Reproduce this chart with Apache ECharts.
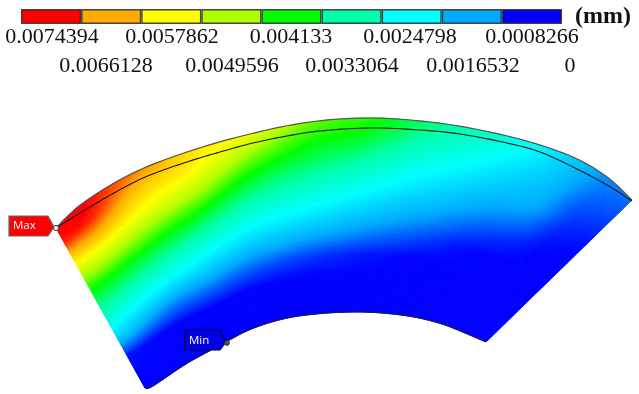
<!DOCTYPE html>
<html><head><meta charset="utf-8">
<style>html,body{margin:0;padding:0;background:#fff}#c{width:639px;height:394px}</style>
<script src="https://cdn.jsdelivr.net/npm/echarts@6/dist/echarts.min.js"></script>
</head><body><div id="c"></div>
<script>
// ---- values ----
const tickLabels = ['0.0074394','0.0066128','0.0057862','0.0049596','0.004133','0.0033064','0.0024798','0.0016532','0.0008266','0'];
const tickValues = [0.0074394,0.0066128,0.0057862,0.0049596,0.004133,0.0033064,0.0024798,0.0016532,0.0008266,0];
const bandColors = ['#ff0000','#ffaa00','#ffff00','#b0ff00','#00ff00','#00ffaa','#00ffff','#00aaff','#0000ff'];
const unitLabel = '(mm)';
// sector boundary, one station per column of the field
const outerX = [56,83,133,190,250,310,370,430,480,530,575,607,632];
const outerY = [228,203,173,151,134,122,118,122,130,142,158,177,200];
const innerX = [145,153,186,217,249,283,316,351,382,414,442,465,486];
const innerY = [388,386,364,347,330,319,314,312,313,317,324,333,342];
// thin black curve under the top edge
const seamX = [56,67,100,125,150,190,220,253,287,320,370,420,460,507,540,573,607,632];
const seamY = [228,221,201,187,175,161,152,143,136,131,128,130,134,143,152,167,185,201];
// depth of each row, from top edge (0) to bottom edge (1)
const rowDepth = [0,.05,.1,.2,.3,.4,.5,.6,.7,.8,.9,1];
// displacement, in 1e-4 mm, one list per station
const st0  = [74.4,74.4,72.0,58.5,46.5,36.5,29.0,21.6,12.4,1.2,0,0];
const st1  = [74.4,74.4,72.5,61.5,48.5,37.2,28.5,19.9,11.4,0.6,0,0];
const st2  = [68.0,65.0,61.5,54.8,44.4,34.5,25.7,16.7,7.4,0,0,0];
const st3  = [59.5,58.0,56.4,48.2,38.6,29.8,21.2,14.0,6.5,0,0,0];
const st4  = [53.6,49.7,45.8,38.0,31.0,24.1,17.4,11.2,5.0,0,0,0];
const st5  = [43.2,40.8,38.4,33.0,27.4,21.7,16.0,10.2,3.9,0,0,0];
const st6  = [38.7,37.3,34.8,29.4,24.0,18.6,13.6,8.4,2.4,0,0,0];
const st7  = [31.2,29.1,27.0,22.8,18.6,14.6,10.5,5.9,1.0,0,0,0];
const st8  = [26.0,24.2,22.3,18.6,15.1,11.6,7.8,3.6,0,0,0,0];
const st9  = [20.0,18.7,17.3,14.4,11.6,8.5,4.7,0.8,0,0,0,0];
const st10 = [13.4,12.7,12.0,10.6,9.4,6.0,2.2,0,0,0,0,0];
const st11 = [8.2,7.3,6.5,4.7,3.0,1.2,0,0,0,0,0,0];
const st12 = [6.0,5.1,4.3,2.6,0.9,0,0,0,0,0,0,0];
const stations = [st0,st1,st2,st3,st4,st5,st6,st7,st8,st9,st10,st11,st12];
const maxValue = 74.394;

// ---- helpers ----
const rgb = bandColors.slice().reverse().map(h => [1,3,5].map(i => parseInt(h.substr(i,2),16)));
function colorOf(v){
  let p = Math.max(0,Math.min(1,v/maxValue))*(rgb.length-1);
  let i = Math.min(rgb.length-2,Math.floor(p)), f = p-i;
  return 'rgb('+[0,1,2].map(k=>Math.round(rgb[i][k]+(rgb[i+1][k]-rgb[i][k])*f)).join(',')+')';
}
function spline(a,i,t){
  const p0=a[Math.max(i-1,0)],p1=a[i],p2=a[Math.min(i+1,a.length-1)],p3=a[Math.min(i+2,a.length-1)];
  return .5*((2*p1)+(-p0+p2)*t+(2*p0-5*p1+4*p2-p3)*t*t+(-p0+3*p1-3*p2+p3)*t*t*t);
}
function curvePts(xs,ys,api,n){
  const out=[];
  for(let i=0;i<xs.length-1;i++) for(let k=0;k<n;k++){
    out.push(api.coord([spline(xs,i,k/n),spline(ys,i,k/n)]));
  }
  out.push(api.coord([xs[xs.length-1],ys[ys.length-1]]));
  return out;
}
const rows = rowDepth.map((_,r)=>stations.map(s=>s[r]));
const SU=14, SR=7;
function renderCell(params,api){
  const c=api.value(0), r=api.value(1), kids=[];
  const d0=rowDepth[r], d1=rowDepth[r+1];
  const pt=(u,s)=>{
    const ox=spline(outerX,c,u),oy=spline(outerY,c,u),ix=spline(innerX,c,u),iy=spline(innerY,c,u);
    return api.coord([ox+(ix-ox)*s,oy+(iy-oy)*s]);
  };
  const val=(u,w)=>{
    const a=spline(rows[r],c,u), b=spline(rows[r+1],c,u);
    return a+(b-a)*w;
  };
  for(let i=0;i<SU;i++) for(let j=0;j<SR;j++){
    const u0=i/SU,u1=(i+1)/SU,w0=j/SR,w1=(j+1)/SR;
    const s0=d0+(d1-d0)*w0,s1=d0+(d1-d0)*w1;
    const col=colorOf(val((u0+u1)/2,(w0+w1)/2));
    kids.push({type:'polygon',shape:{points:[pt(u0,s0),pt(u1,s0),pt(u1,s1),pt(u0,s1)]},
      style:{fill:col,stroke:col,lineWidth:1}});
  }
  return {type:'group',children:kids};
}
const cells=[];
for(let c=0;c<stations.length-1;c++) for(let r=0;r<rowDepth.length-1;r++) cells.push([c,r]);

function renderCurves(params,api){
  return {type:'group',children:[
    {type:'polyline',shape:{points:curvePts(outerX,outerY,api,10)},style:{fill:null,stroke:'#555',lineWidth:1.2}},
    {type:'polyline',shape:{points:curvePts(innerX,innerY,api,10)},style:{fill:null,stroke:'#222',lineWidth:1}},
    {type:'polyline',shape:{points:curvePts(seamX,seamY,api,10)},style:{fill:null,stroke:'#1a1a1a',lineWidth:1.1}}
  ]};
}
function renderTags(params,api){
  const P=(x,y)=>api.coord([x,y]);
  return {type:'group',children:[
    {type:'polygon',shape:{points:[P(9,216),P(48,216),P(54,227),P(48,236),P(9,236)]},
      style:{fill:'#ff0000',stroke:'#666',lineWidth:1.2}},
    {type:'text',style:{x:P(13,226)[0],y:P(13,226)[1],text:'Max',fill:'#fff',font:'11.5px "Open Sans"',verticalAlign:'middle'}},
    {type:'circle',shape:{cx:P(56,228)[0],cy:P(56,228)[1],r:2.6},style:{fill:'#eee',stroke:'#444',lineWidth:1}},
    {type:'polygon',shape:{points:[P(185,330),P(220,330),P(226,342),P(220,350),P(185,350)]},
      style:{fill:'#0000e6',stroke:'#050530',lineWidth:1.2}},
    {type:'text',style:{x:P(189,341)[0],y:P(189,341)[1],text:'Min',fill:'#fff',font:'11.5px "Open Sans"',verticalAlign:'middle'}},
    {type:'circle',shape:{cx:P(227,343)[0],cy:P(227,343)[1],r:2.4},style:{fill:'#555',stroke:'#333',lineWidth:1}}
  ]};
}
const labelCx=[52,106,172,232,291,352,410,473,532,570];
const labelCy=[37,66];
function renderLabels(params,api){
  const kids=tickLabels.map((t,i)=>{
    const p=api.coord([labelCx[i],labelCy[i%2]]);
    return {type:'text',style:{x:p[0],y:p[1],text:t,fill:'#111',font:'22px "Liberation Serif"',align:'center',verticalAlign:'middle'}};
  });
  const q=api.coord([603,17]);
  kids.push({type:'text',style:{x:q[0],y:q[1],text:unitLabel,fill:'#111',font:'bold 24px "Liberation Serif"',align:'center',verticalAlign:'middle'}});
  return {type:'group',children:kids};
}
// legend bar segments, lowest band first so the stack grows from 0
const bandSeries=bandColors.map((col,i)=>({i,col})).reverse().map(b=>({
  type:'bar',xAxisIndex:1,yAxisIndex:1,stack:'legend',barWidth:'100%',silent:true,
  data:[tickValues[b.i]-tickValues[b.i+1]],
  itemStyle:{color:b.col,borderColor:'rgba(40,40,40,.85)',borderWidth:1.4}
}));

const chart=echarts.init(document.getElementById('c'),null,{renderer:'canvas'});
chart.setOption({
  animation:false,
  backgroundColor:'#fff',
  grid:[{left:0,right:0,top:0,bottom:0},{left:21,top:9,width:541,height:15}],
  xAxis:[{type:'value',min:0,max:639,show:false},
         {type:'value',gridIndex:1,min:0,max:tickValues[0],inverse:true,show:false}],
  yAxis:[{type:'value',min:0,max:394,inverse:true,show:false},
         {type:'category',gridIndex:1,data:['band'],show:false}],
  series:[
    {type:'custom',renderItem:renderCell,data:cells,silent:true,clip:false,progressive:0,z:1},
    {type:'custom',renderItem:renderCurves,data:[[0,0]],silent:true,clip:false,z:2},
    {type:'custom',renderItem:renderTags,data:[[0,0]],silent:true,clip:false,z:3},
    {type:'custom',renderItem:renderLabels,data:[[0,0]],silent:true,clip:false,z:3}
  ].concat(bandSeries)
});
</script></body></html>
